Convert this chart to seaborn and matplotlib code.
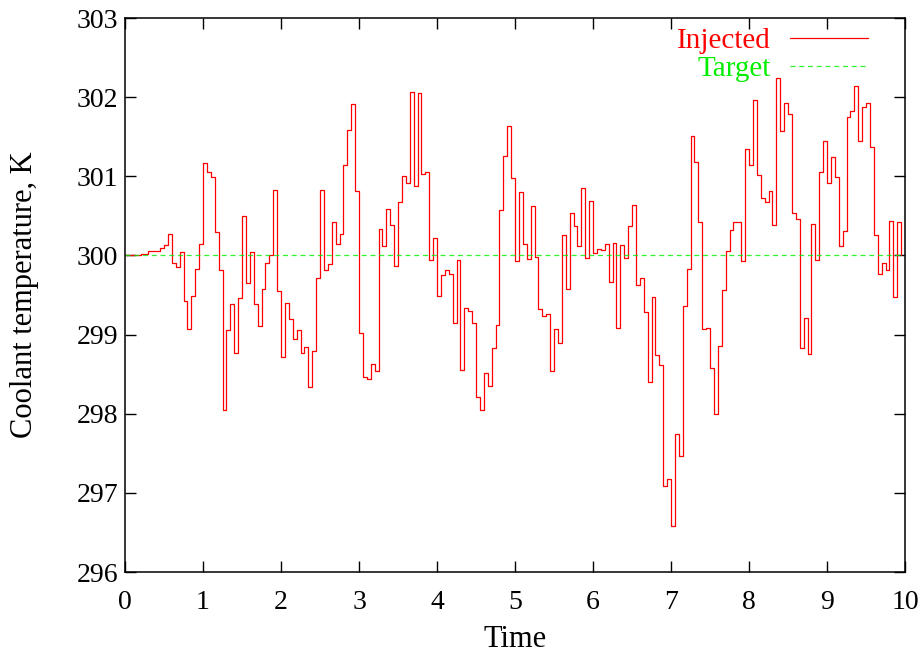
import numpy as np
import pandas as pd
import matplotlib
matplotlib.use("Agg")
import matplotlib.pyplot as plt
import seaborn as sns

# ==================== Data ====================
STEP = 0.05
injected = [
    300.00, 300.00, 300.00, 300.01, 300.02, 300.02, 300.06, 300.05, 300.05, 300.09,
    300.13, 300.27, 299.91, 299.85, 300.04, 299.42, 299.07, 299.49, 299.83, 300.14,
    301.17, 301.05, 300.99, 300.29, 299.82, 298.05, 299.06, 299.38, 298.77, 299.46,
    300.50, 299.65, 300.04, 299.38, 299.11, 299.57, 299.90, 300.01, 300.83, 299.55,
    298.72, 299.40, 299.20, 298.94, 299.06, 298.77, 298.84, 298.34, 298.79, 299.72,
    300.83, 299.81, 299.89, 300.42, 300.15, 300.27, 301.14, 301.59, 301.91, 300.82,
    299.02, 298.47, 298.44, 298.63, 298.54, 300.34, 300.12, 300.59, 300.38, 299.87,
    300.67, 301.00, 300.92, 302.07, 300.88, 302.05, 301.03, 301.06, 299.94, 300.22,
    299.49, 299.75, 299.81, 299.76, 299.15, 299.94, 298.55, 299.33, 299.30, 299.15,
    298.21, 298.05, 298.52, 298.35, 298.83, 299.12, 300.57, 301.26, 301.63, 300.98,
    299.93, 300.80, 300.14, 299.95, 300.63, 299.98, 299.32, 299.23, 299.26, 298.54,
    299.07, 298.89, 300.26, 299.57, 300.54, 300.37, 300.12, 300.85, 299.97, 300.69,
    300.03, 300.08, 300.07, 300.14, 299.66, 300.16, 299.08, 300.13, 299.97, 300.37,
    300.64, 299.63, 299.71, 299.29, 298.40, 299.48, 298.74, 298.62, 297.09, 297.17,
    296.58, 297.74, 297.47, 299.36, 299.83, 301.51, 301.18, 300.42, 299.07, 299.08,
    298.58, 298.00, 298.86, 299.56, 300.06, 300.32, 300.42, 300.42, 299.93, 301.35,
    301.14, 301.97, 301.01, 300.73, 300.67, 300.81, 300.39, 302.24, 301.57, 301.93,
    301.79, 300.54, 300.46, 298.83, 299.21, 298.75, 300.40, 299.94, 301.06, 301.44,
    300.91, 301.25, 300.99, 300.12, 300.31, 301.75, 301.82, 302.14, 301.44, 301.88,
    301.92, 301.37, 300.26, 299.77, 299.90, 299.82, 300.43, 299.48, 300.42, 300.00,
]
time = [round(STEP * i, 2) for i in range(len(injected))]

target_time = [0, 10]
target = [300, 300]

x_ticks = list(range(0, 11))
y_ticks = list(range(296, 304))

df_inj = pd.DataFrame({'Time': time, 'T': injected})
df_tgt = pd.DataFrame({'Time': target_time, 'T': target})

# ==================== Style ====================
sns.set_style("ticks")
plt.rcParams['font.family'] = ['Liberation Serif', 'DejaVu Serif']
plt.rcParams['text.color'] = 'black'
plt.rcParams['axes.labelcolor'] = 'black'

fig = plt.figure(figsize=(9.22, 6.57), dpi=100)
ax = fig.add_axes([125 / 922, 1 - 572 / 657, 780 / 922, 554 / 657])

sns.lineplot(data=df_inj, x='Time', y='T', ax=ax, color='#ff0000',
             linewidth=0.9, drawstyle='steps-post', label='Injected')
sns.lineplot(data=df_tgt, x='Time', y='T', ax=ax, color='#00ee00',
             linewidth=0.9, dashes=False, linestyle=(0, (4, 3)),
             label='Target', alpha=0.8)

ax.set_xlim(0, 10)
ax.set_ylim(296, 303)
ax.set_xticks(x_ticks)
ax.set_yticks(y_ticks)
ax.tick_params(direction='in', length=8, width=1, labelsize=20,
               top=True, right=True, colors='black')
ax.tick_params(axis='x', pad=13)
ax.tick_params(axis='y', pad=5)
for s in ax.spines.values():
    s.set_linewidth(1.1)
    s.set_color('black')

ax.set_xlabel('Time', fontsize=22, labelpad=7, color='black')
ax.set_ylabel('Coolant temperature, K', fontsize=22, labelpad=27, color='black')

leg = ax.legend(loc='upper right', bbox_to_anchor=(0.953, 0.982),
                frameon=False, markerfirst=False,
                labelcolor='linecolor', fontsize=21, handlelength=2.7,
                handletextpad=0.65, borderaxespad=0, borderpad=0,
                labelspacing=0.05)
for t in leg.get_texts():
    t.set_alpha(1)

plt.savefig('out.png', dpi=100)
plt.close()
